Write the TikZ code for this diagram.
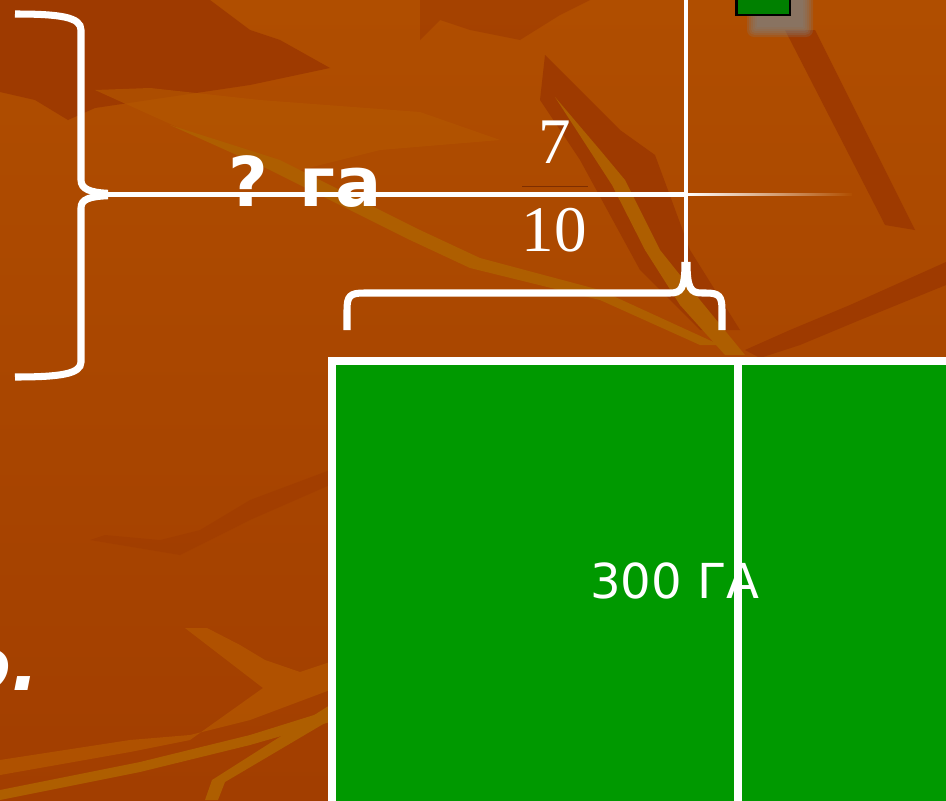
\documentclass[tikz,border=0pt]{standalone}
\usepackage{fontspec}
\setmainfont{Liberation Serif}
\newfontfamily\dejavu{DejaVu Sans}
\definecolor{bgtop}{HTML}{B04E00}
\definecolor{bgbot}{HTML}{A23E00}
\definecolor{streakdark}{HTML}{9E3A00}
\definecolor{streaklight}{HTML}{B35600}
\definecolor{streakgold}{HTML}{AE5E00}
\definecolor{fieldgreen}{HTML}{009900}
\definecolor{smallgreen}{HTML}{008000}
\tikzset{
  bigbrace/.style={white,line width=2pt,line cap=butt},
  thinline/.style={white,line width=1.1pt},
  bigtext/.style={text=white,font=\dejavu\bfseries\fontsize{19.5}{22}\selectfont,inner sep=0pt},
  fractext/.style={text=white,font=\fontsize{18.5}{20}\selectfont,inner sep=0pt}
}
\begin{document}
\begin{tikzpicture}[x=0.01cm,y=-0.01cm]
\useasboundingbox (0,0) rectangle (946,800);
\clip (0,0) rectangle (946,800);

% background and streaks
\shade[top color=bgtop,bottom color=bgbot] (0,0) rectangle (946,800);
\fill[streakdark] (0,0) -- (210,0) -- (250,30) -- (280,40) -- (330,68) -- (250,85) -- (95,108) -- (68,120) -- (35,100) -- (0,92) -- cycle;
\fill[streaklight,opacity=0.7] (95,90) -- (150,88) -- (260,100) -- (420,112) -- (500,140) -- (380,150) -- (300,170) -- (250,160) -- cycle;
\fill[streakdark,opacity=0.6] (420,40) -- (440,20) -- (470,30) -- (520,40) -- (560,15) -- (590,0) -- (420,0) -- cycle;
\fill[streakdark] (540,100) -- (545,55) -- (620,130) -- (655,155) -- (690,250) -- (740,330) -- (700,330) -- (640,270) -- (580,160) -- cycle;
\fill[streakgold] (555,97) -- (600,150) -- (625,180) -- (660,250) -- (700,300) -- (745,355) -- (725,355) -- (680,305) -- (645,250) -- (612,185) -- cycle;
\fill[streakgold] (170,125) -- (280,160) -- (340,190) -- (420,230) -- (480,258) -- (600,290) -- (720,345) -- (700,345) -- (600,300) -- (470,268) -- (410,240) -- (330,200) -- (270,170) -- cycle;
\fill[streakdark] (785,30) -- (815,30) -- (915,230) -- (885,225) -- cycle;
\fill[streakdark] (946,262) -- (946,285) -- (860,320) -- (800,345) -- (760,358) -- (745,350) -- (790,330) -- (850,305) -- cycle;
\fill[streakdark,opacity=0.5] (90,540) -- (105,535) -- (160,540) -- (200,530) -- (250,500) -- (330,470) -- (330,485) -- (250,520) -- (180,555) -- cycle;
\fill[streaklight,opacity=0.8] (185,628) -- (207,628) -- (240,645) -- (265,660) -- (300,672) -- (330,662) -- (330,690) -- (250,720) -- (190,735) -- (130,740) -- (0,760) -- (0,775) -- (130,752) -- (190,740) -- (263,688) -- cycle;
\fill[streakgold] (0,790) -- (140,762) -- (250,735) -- (330,710) -- (330,722) -- (250,745) -- (140,772) -- (0,800) -- cycle;
\fill[streakgold] (330,705) -- (330,720) -- (225,782) -- (218,800) -- (205,800) -- (212,780) -- cycle;

% left brace with its line
\draw[bigbrace] (15,14) .. controls (60,14) and (81,17) .. (81,30) -- (81,180)
  .. controls (81,189) and (90,192.5) .. (108,193.3);
\draw[bigbrace] (15,377) .. controls (60,377) and (81,374) .. (81,362) -- (81,208)
  .. controls (81,199) and (90,196.5) .. (108,195.7);
\coordinate (bracetip) at (95,194.5);
\coordinate (cross) at (686,194.5);
\draw[thinline,line width=1.2pt] (bracetip) -- (cross);
\shade[left color=white,right color=bgtop] (686,193.8) rectangle (852,195.2);

% top brace with vertical line
\draw[bigbrace] (347,330) -- (347,310) .. controls (347,296) and (350,293) .. (364,293) -- (670,293)
  .. controls (681,293) and (685,289) .. (685,262);
\draw[bigbrace] (722,330) -- (722,310) .. controls (722,296) and (719,293) .. (706,293) -- (702,293)
  .. controls (691,293) and (687,289) .. (687,262);
\draw[white,line width=1.3pt] (686,265) -- (686,-5);

% labels
\node[bigtext,anchor=base] (qha) at (305,206) {? га};
\node[fractext] (num) at (555,142) {7};
\node[fractext] (den) at (554,230) {10};
\draw[streakdark!80!black,line width=0.2pt] (522,186) -- (588,186);
\node[bigtext,font=\dejavu\bfseries\itshape\fontsize{21}{24}\selectfont,anchor=base east] (cut) at (40,690) {о.};

% field
\draw[white,line width=2.3pt,fill=fieldgreen] (332,361) rectangle (970,830);
\draw[white,line width=2pt] (738,361) -- (738,830);
\node[text=white,font=\dejavu\fontsize{13.7}{16}\selectfont,inner sep=0pt] (area) at (675,581) {300 ГА};

% small square with soft shadow
\foreach \r in {0,2,...,10}
  \fill[gray,opacity=0.22,rounded corners=\r*0.2pt] (757-\r,-20) rectangle (803+\r,27+\r);
\draw[fill=smallgreen,draw=black,line width=0.7pt] (736.5,-20) rectangle (790,15);
\end{tikzpicture}
\end{document}
